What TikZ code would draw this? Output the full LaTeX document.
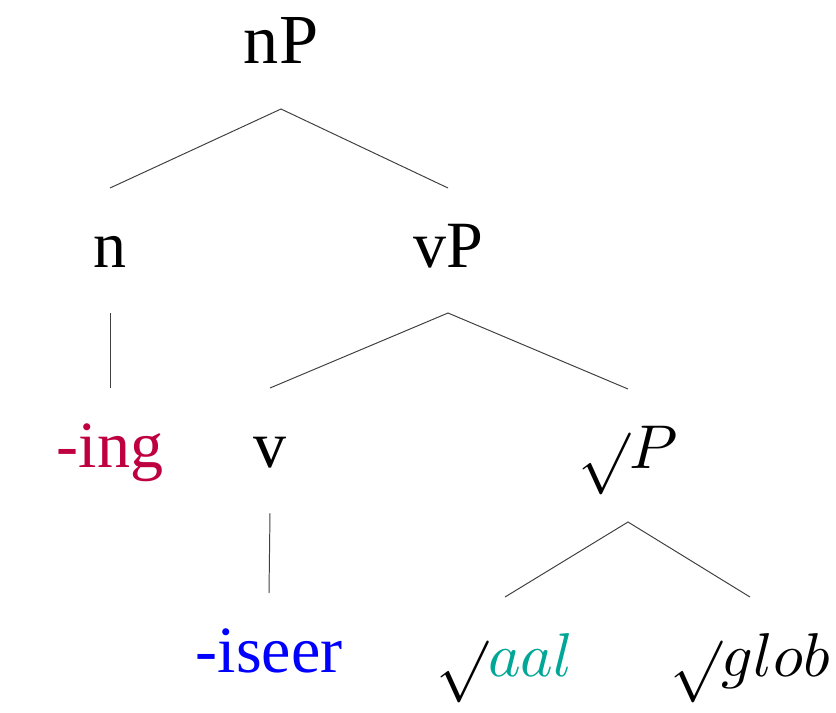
\documentclass[tikz,border=0pt]{standalone}
\usepackage{fontspec}
\setmainfont{Liberation Serif}
\usepackage{xcolor}
\usepackage{tikz}
\definecolor{affixred}{RGB}{191,0,64}
\definecolor{rootteal}{RGB}{0,166,150}
\newcommand\rootof[1]{\scalebox{4.4}{\fontsize{10}{12}\selectfont$\raisebox{-0.19em}{$\surd$}#1$}}
\tikzset{
  lbl/.style={anchor=base, inner sep=0pt, outer ysep=0.8cm, text height=1.175cm, text depth=0.35cm, font=\fontsize{47}{54}\selectfont},
  rootlbl/.style={lbl, text depth=0.55cm},
  branch/.style={draw=black!75, line width=0.7pt}}

\begin{document}
\begin{tikzpicture}
  \useasboundingbox (0,0) rectangle (20.9,-17.8);
  \node[lbl, font=\fontsize{50}{56}\selectfont] (nP) at (7.025,-1.575) {nP};
  \node[lbl] (n) at (2.75,-6.675) {n};
  \node[lbl] (vP) at (11.2,-6.675) {vP};
  \node[lbl, text=affixred] (ing) at (2.75,-11.675) {-ing};
  \node[lbl] (v) at (6.75,-11.675) {v};
  \node[rootlbl] (rP) at (15.7,-11.7) {\rootof{P}};
  \node[lbl, text=blue] (iseer) at (6.725,-16.8) {-iseer};
  \node[lbl] (aal) at (12.625,-16.9) {\rootof{\color{rootteal}aal}};
  \node[lbl] (glob) at (18.75,-16.9) {\rootof{glob}};
  \draw[branch] (n.north) -- (nP.south) -- (vP.north);
  \draw[branch] (n.south) -- (ing.north);
  \draw[branch] (v.north) -- (vP.south) -- (rP.north);
  \draw[branch] (v.south) -- (iseer.north);
  \draw[branch] (aal.north) -- (rP.south) -- (glob.north);
\end{tikzpicture}
\end{document}
